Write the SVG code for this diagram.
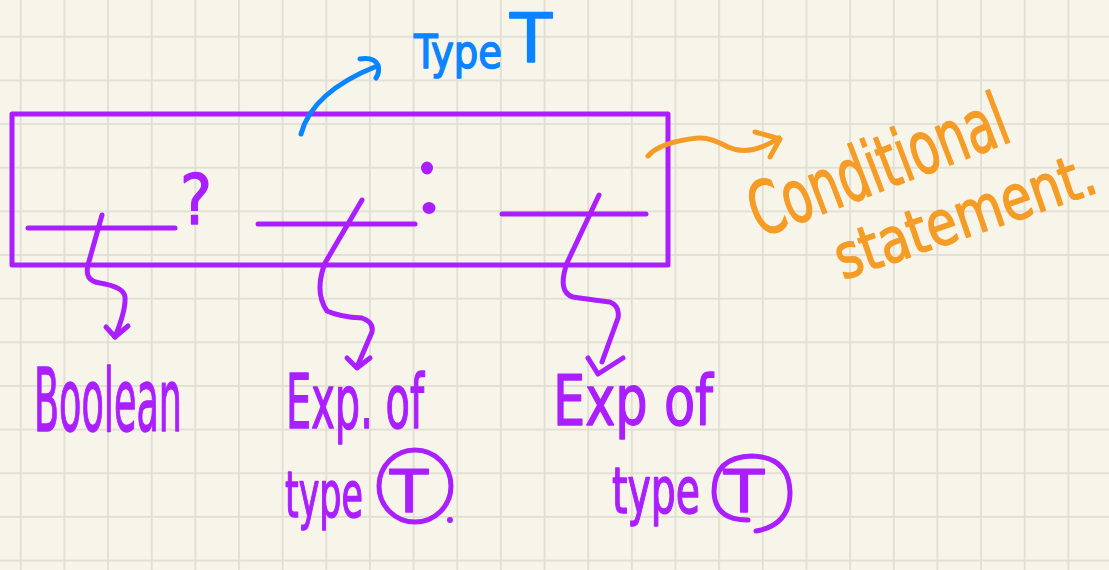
<svg xmlns="http://www.w3.org/2000/svg" width="1109" height="570" viewBox="0 0 1109 570">
<defs>
<pattern id="grid" patternUnits="userSpaceOnUse" x="19.8" y="35.8" width="43.65" height="43.65">
<rect x="0" y="0" width="1.8" height="43.65" fill="#e1ded2"/>
<rect x="0" y="0" width="43.65" height="1.8" fill="#e1ded2"/>
</pattern>
<style>
.p{stroke:#aa1eff;fill:none;stroke-width:5;stroke-linecap:round;stroke-linejoin:round}
.b{stroke:#0a84ff;fill:none;stroke-width:5;stroke-linecap:round;stroke-linejoin:round}
.o{stroke:#f59c27;fill:none;stroke-width:5;stroke-linecap:round;stroke-linejoin:round}
.hw{font-family:"Liberation Sans Narrow","DejaVu Sans Condensed","Liberation Sans",sans-serif;stroke-width:1.4;stroke-linejoin:round}
.tp{fill:#aa1eff;stroke:#aa1eff}
.tb{fill:#0a84ff;stroke:#0a84ff}
.to{fill:#f59c27;stroke:#f59c27}
</style>
</defs>
<rect width="1109" height="570" fill="#f7f5ea"/>
<rect width="1109" height="570" fill="url(#grid)"/>

<g id="conditional-box">
<rect class="p" x="12" y="114" width="656" height="151" stroke-linecap="square"/>
<line class="p" x1="28" y1="228" x2="175" y2="228"/>
<text class="hw tp" x="180" y="224" font-size="70" textLength="32" lengthAdjust="spacingAndGlyphs">?</text>
<line class="p" x1="258" y1="224" x2="415" y2="224"/>
<ellipse cx="427" cy="168" rx="6" ry="6.5" fill="#aa1eff"/>
<ellipse cx="429" cy="208" rx="6.5" ry="6" fill="#aa1eff"/>
<line class="p" x1="502" y1="214" x2="646" y2="214"/>
</g>

<g id="type-label">
<text class="hw tb" font-size="46"><tspan x="414" y="68" textLength="88" lengthAdjust="spacingAndGlyphs">Type</tspan><tspan x="510" y="62" font-size="68" textLength="42" lengthAdjust="spacingAndGlyphs">T</tspan></text>
</g>

<g id="conditional-label">
<text class="hw to" transform="translate(760,238) rotate(-21)" font-size="74" textLength="272" lengthAdjust="spacingAndGlyphs">Conditional</text>
<text class="hw to" transform="translate(843,280) rotate(-19)" font-size="62" textLength="272" lengthAdjust="spacingAndGlyphs">statement.</text>
</g>

<g id="boolean-label">
<text class="hw tp" x="34" y="431" font-size="88" textLength="148" lengthAdjust="spacingAndGlyphs">Boolean</text>
</g>

<g id="exp-of-type-1">
<text class="hw tp" x="286" y="428" font-size="74" textLength="138" lengthAdjust="spacingAndGlyphs">Exp. of</text>
<text class="hw tp" x="285" y="517" font-size="64" textLength="78" lengthAdjust="spacingAndGlyphs">type</text>
<circle class="p" cx="415" cy="486" r="36"/>
<text class="hw tp" x="409" y="512" font-size="58" text-anchor="middle" textLength="38" lengthAdjust="spacingAndGlyphs">T</text>
<circle cx="450" cy="520" r="3" fill="#aa1eff"/>
</g>

<g id="exp-of-type-2">
<text class="hw tp" x="553" y="425" font-size="70" textLength="160" lengthAdjust="spacingAndGlyphs">Exp of</text>
<text class="hw tp" x="612" y="513" font-size="64" textLength="88" lengthAdjust="spacingAndGlyphs">type</text>
<path class="p" d="M756,531 Q790,525 790,492 Q789,457 752,456 Q714,457 714,492 Q715,520 748,520"/>
<text class="hw tp" x="744" y="512" font-size="58" text-anchor="middle" textLength="40" lengthAdjust="spacingAndGlyphs">T</text>
</g>

<g id="connectors">
<path class="p" d="M102,215 L88,265 Q84,281 100,283 Q124,287 125,297 Q126,310 115,337"/>
<path class="p" d="M106,327 L115,337 L128,326"/>
<path class="p" d="M362,200 L325,263 Q314,292 327,311 Q340,317 362,318 Q374,322 372,332 L357,367"/>
<path class="p" d="M347,358 L357,368 L370,358"/>
<path class="p" d="M599,195 L567,263 Q557,292 573,297 Q600,301 610,302 Q620,306 618,318 L602,362"/>
<path class="p" d="M588,358 L598,374 L623,358"/>
<path class="b" d="M301,134 Q312,92 377,66"/>
<path class="b" d="M360,59 Q374,57 378,65 Q380,72 376,78"/>
<path class="o" d="M648,156 Q660,142 698,138 Q710,137 728,147 Q750,157 779,138"/>
<path class="o" d="M755,132 L780,139 L770,157"/>
</g>
</svg>
